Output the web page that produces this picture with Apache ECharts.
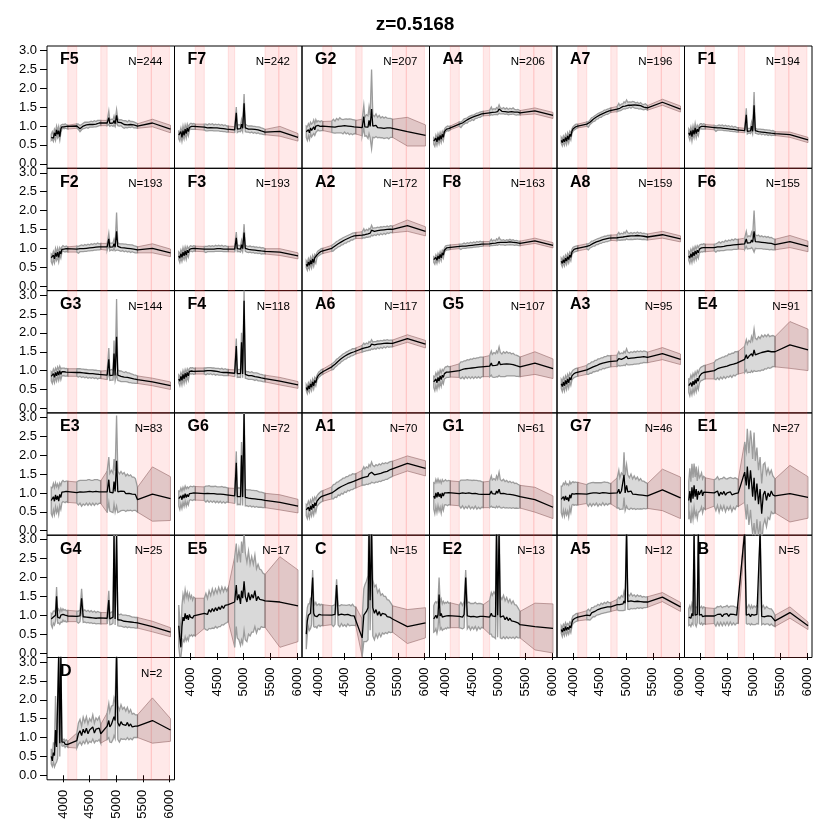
<!DOCTYPE html>
<html><head><meta charset="utf-8">
<script src="https://cdn.jsdelivr.net/npm/echarts@6/dist/echarts.min.js"></script>
<style>html,body{margin:0;padding:0;background:#fff}#c{width:830px;height:830px}</style>
</head><body><div id="c"></div>
<script>
// wavelength grid (Angstrom): unmasked blue end | unmasked mid | unmasked [OIII] region | masked red end
const WAVE = [3780,3800,3820,3840,3860,3880,3900,3920,3940,3960,3980,4000,4020,4040,4060,4090,
  4260,4290,4320,4350,4380,4410,4440,4470,4500,4530,4560,4590,4620,4650,4680,4710,
  4830,4861,4880,4910,4940,4959,4980,5007,5030,5060,5090,5120,5150,5180,5210,5240,5270,5300,5330,5360,5400,
  5680,6020];
const PANEL_NAMES = ['F5','F7','G2','A4','A7','F1','F2','F3','A2','F8','A8','F6','G3','F4','A6','G5','A3','E4',
  'E3','G6','A1','G1','G7','E1','G4','E5','C','E2','A5','B','D'];
const PANEL_COUNTS = [244,242,207,206,196,194,193,193,172,163,159,155,144,118,117,107,95,91,83,72,70,61,46,27,25,17,15,13,12,5,2];
const X_TICKS = [4000,4500,5000,5500,6000];
const Y_TICKS = [0,0.5,1,1.5,2,2.5,3];
const MASK_BANDS = [[4090,4260],[4710,4830],[5400,5660],[5660,6000]];
const TITLE = 'z=0.5168';

const mean_F5 = [0.70,0.75,0.68,0.82,0.74,0.90,0.78,0.88,0.72,0.92,0.98,1.00,0.98,1.00,0.99,0.97, 1.00,0.98,0.93,0.97,1.00,1.02,1.03,1.02,1.04,1.05,1.04,1.06,1.05,1.07,1.08,1.08, 1.08,1.22,1.07,1.10,1.08,1.15,1.06,1.28,1.10,1.08,1.09,1.06,1.04,1.05,1.03,1.06,1.04,1.05,1.03,1.02,1.00, 1.08,0.92];
const spread_F5 = [0.08,0.10,0.09,0.10,0.12,0.10,0.09,0.11,0.10,0.10,0.06,0.05,0.05,0.06,0.05,0.05, 0.06,0.07,0.08,0.07,0.07,0.08,0.07,0.08,0.07,0.08,0.07,0.08,0.07,0.08,0.07,0.07, 0.07,0.18,0.08,0.08,0.09,0.12,0.08,0.15,0.09,0.08,0.08,0.09,0.10,0.09,0.08,0.09,0.08,0.07,0.08,0.07,0.06, 0.10,0.10];
const mean_F7 = [0.76,0.72,0.85,0.70,0.88,0.75,0.92,0.80,0.95,0.85,0.96,1.00,0.99,0.98,0.99,0.98, 0.97,0.96,0.95,0.97,0.96,0.97,0.95,0.96,0.95,0.96,0.94,0.95,0.93,0.94,0.92,0.92, 0.90,1.35,0.92,0.95,0.93,1.05,0.94,1.60,0.95,0.93,0.92,0.91,0.92,0.90,0.91,0.89,0.90,0.88,0.87,0.86,0.84, 0.86,0.70];
const spread_F7 = [0.10,0.12,0.10,0.11,0.12,0.10,0.11,0.12,0.10,0.11,0.08,0.07,0.08,0.07,0.08,0.07, 0.08,0.09,0.08,0.09,0.08,0.09,0.08,0.09,0.08,0.09,0.08,0.09,0.08,0.09,0.08,0.08, 0.08,0.15,0.09,0.09,0.08,0.12,0.09,0.25,0.10,0.09,0.08,0.09,0.08,0.09,0.08,0.09,0.08,0.09,0.08,0.08,0.07, 0.13,0.10];
const mean_G2 = [0.85,0.80,0.90,0.82,0.95,0.88,0.92,0.98,0.90,1.00,0.98,1.02,1.00,0.99,1.01,1.00, 0.98,1.00,0.97,1.01,0.99,1.02,1.00,0.98,1.01,0.99,1.00,0.98,0.99,0.97,0.98,0.97, 0.96,1.25,0.98,1.02,0.97,1.15,0.99,1.45,1.00,0.97,1.02,0.96,0.99,0.95,0.97,0.94,0.96,0.95,0.93,0.95,0.94, 0.85,0.75];
const spread_G2 = [0.15,0.18,0.16,0.18,0.15,0.17,0.16,0.18,0.15,0.17,0.12,0.12,0.13,0.12,0.13,0.12, 0.15,0.18,0.16,0.19,0.17,0.20,0.18,0.19,0.17,0.20,0.18,0.21,0.19,0.20,0.18,0.18, 0.22,0.30,0.25,0.28,0.30,0.35,0.30,1.05,0.30,0.28,0.30,0.27,0.29,0.26,0.28,0.27,0.28,0.26,0.27,0.25,0.24, 0.38,0.28];
const mean_A4 = [0.60,0.55,0.68,0.58,0.72,0.62,0.75,0.65,0.78,0.70,0.85,0.90,0.92,0.94,0.93,0.95, 1.05,1.03,1.08,1.12,1.14,1.15,1.19,1.20,1.23,1.22,1.26,1.27,1.29,1.30,1.32,1.33, 1.35,1.40,1.36,1.38,1.37,1.40,1.38,1.45,1.40,1.39,1.41,1.38,1.40,1.37,1.39,1.38,1.40,1.37,1.36,1.37,1.35, 1.40,1.28];
const spread_A4 = [0.08,0.09,0.08,0.09,0.08,0.09,0.08,0.09,0.08,0.09,0.06,0.06,0.06,0.06,0.06,0.05, 0.06,0.07,0.06,0.07,0.06,0.07,0.06,0.07,0.06,0.07,0.06,0.07,0.06,0.07,0.06,0.06, 0.07,0.10,0.07,0.08,0.07,0.09,0.08,0.11,0.08,0.07,0.08,0.07,0.08,0.07,0.08,0.07,0.08,0.07,0.07,0.07,0.06, 0.08,0.08];
const mean_A7 = [0.62,0.56,0.66,0.58,0.70,0.60,0.74,0.64,0.78,0.72,0.86,0.92,0.95,0.97,0.99,1.00, 1.05,1.04,1.10,1.15,1.18,1.20,1.24,1.26,1.29,1.30,1.33,1.35,1.37,1.38,1.40,1.42, 1.45,1.50,1.47,1.50,1.52,1.55,1.53,1.58,1.55,1.57,1.55,1.58,1.56,1.54,1.55,1.52,1.54,1.51,1.50,1.52,1.48, 1.63,1.45];
const spread_A7 = [0.08,0.09,0.08,0.09,0.08,0.09,0.08,0.09,0.08,0.09,0.06,0.06,0.06,0.06,0.06,0.05, 0.06,0.07,0.06,0.07,0.06,0.07,0.06,0.07,0.06,0.07,0.06,0.07,0.06,0.07,0.06,0.06, 0.07,0.10,0.07,0.08,0.07,0.09,0.08,0.11,0.08,0.07,0.08,0.07,0.08,0.07,0.08,0.07,0.08,0.07,0.07,0.07,0.06, 0.08,0.08];
const mean_F1 = [0.82,0.75,0.88,0.72,0.90,0.78,0.95,0.80,0.92,0.85,0.96,1.00,0.99,0.98,0.99,0.98, 0.96,0.93,0.95,0.96,0.95,0.96,0.94,0.95,0.93,0.94,0.92,0.93,0.91,0.92,0.90,0.90, 0.88,1.30,0.86,0.88,0.87,1.00,0.86,1.55,0.88,0.86,0.85,0.86,0.84,0.85,0.83,0.84,0.82,0.83,0.81,0.82,0.80, 0.77,0.63];
const spread_F1 = [0.10,0.12,0.10,0.12,0.11,0.10,0.12,0.11,0.10,0.11,0.07,0.06,0.07,0.06,0.07,0.06, 0.06,0.07,0.06,0.07,0.06,0.07,0.06,0.07,0.06,0.07,0.06,0.07,0.06,0.07,0.06,0.06, 0.06,0.17,0.07,0.06,0.07,0.10,0.07,0.35,0.07,0.06,0.07,0.06,0.07,0.06,0.07,0.06,0.07,0.06,0.06,0.06,0.05, 0.07,0.07];
const mean_F2 = [0.75,0.70,0.82,0.72,0.88,0.78,0.90,0.76,0.92,0.85,0.97,1.00,0.98,0.97,0.99,0.97, 0.98,0.96,0.99,1.00,0.99,1.01,1.00,1.02,1.01,1.03,1.02,1.04,1.03,1.05,1.04,1.05, 1.04,1.25,1.03,1.05,1.04,1.12,1.03,1.45,1.05,1.03,1.02,1.03,1.01,1.02,1.00,1.01,0.99,1.00,0.98,0.97,0.96, 1.00,0.88];
const spread_F2 = [0.10,0.12,0.10,0.11,0.12,0.10,0.11,0.12,0.10,0.11,0.07,0.07,0.07,0.07,0.07,0.07, 0.08,0.09,0.08,0.09,0.08,0.09,0.08,0.09,0.08,0.09,0.08,0.09,0.08,0.09,0.08,0.08, 0.09,0.15,0.10,0.09,0.10,0.12,0.10,0.50,0.10,0.09,0.10,0.09,0.10,0.09,0.10,0.09,0.10,0.09,0.09,0.09,0.08, 0.12,0.10];
const mean_F3 = [0.80,0.74,0.86,0.76,0.90,0.80,0.93,0.82,0.95,0.88,0.97,1.00,0.99,0.98,1.00,0.99, 0.98,0.97,0.98,0.99,0.98,0.99,0.98,1.00,0.99,1.00,0.99,1.00,0.98,0.99,0.98,0.98, 0.98,1.28,0.99,1.00,0.98,1.10,0.99,1.42,1.00,0.98,0.97,0.98,0.96,0.97,0.95,0.96,0.94,0.95,0.93,0.94,0.92, 0.90,0.80];
const spread_F3 = [0.10,0.12,0.10,0.11,0.12,0.10,0.11,0.12,0.10,0.11,0.07,0.07,0.07,0.07,0.07,0.07, 0.07,0.08,0.07,0.08,0.07,0.08,0.07,0.08,0.07,0.08,0.07,0.08,0.07,0.08,0.07,0.07, 0.08,0.15,0.08,0.08,0.08,0.11,0.08,0.22,0.08,0.08,0.08,0.08,0.08,0.08,0.08,0.08,0.08,0.08,0.08,0.08,0.07, 0.09,0.08];
const mean_A2 = [0.58,0.52,0.64,0.55,0.68,0.58,0.72,0.62,0.75,0.70,0.82,0.86,0.88,0.90,0.92,0.93, 1.00,1.02,1.06,1.09,1.12,1.14,1.17,1.19,1.22,1.23,1.26,1.27,1.30,1.31,1.33,1.34, 1.35,1.40,1.36,1.40,1.38,1.42,1.40,1.48,1.43,1.45,1.44,1.47,1.45,1.48,1.46,1.49,1.47,1.50,1.48,1.51,1.50, 1.60,1.45];
const spread_A2 = [0.09,0.10,0.09,0.10,0.09,0.10,0.09,0.10,0.09,0.10,0.07,0.07,0.07,0.07,0.07,0.07, 0.08,0.09,0.08,0.09,0.08,0.09,0.08,0.09,0.08,0.09,0.08,0.09,0.08,0.09,0.08,0.08, 0.09,0.12,0.09,0.10,0.09,0.11,0.10,0.13,0.10,0.09,0.10,0.09,0.10,0.09,0.10,0.09,0.10,0.09,0.09,0.09,0.09, 0.15,0.12];
const mean_F8 = [0.70,0.66,0.76,0.68,0.80,0.72,0.84,0.75,0.88,0.82,0.95,1.00,1.01,1.02,1.02,1.03, 1.05,1.04,1.06,1.07,1.06,1.08,1.07,1.09,1.08,1.10,1.09,1.11,1.10,1.12,1.11,1.12, 1.12,1.16,1.13,1.15,1.14,1.17,1.15,1.20,1.16,1.15,1.16,1.14,1.16,1.15,1.17,1.15,1.16,1.14,1.15,1.14,1.13, 1.20,1.08];
const spread_F8 = [0.07,0.08,0.07,0.08,0.07,0.08,0.07,0.08,0.07,0.08,0.06,0.06,0.06,0.06,0.06,0.06, 0.06,0.07,0.06,0.07,0.06,0.07,0.06,0.07,0.06,0.07,0.06,0.07,0.06,0.07,0.06,0.06, 0.06,0.08,0.06,0.07,0.06,0.08,0.07,0.09,0.07,0.06,0.07,0.06,0.07,0.06,0.07,0.06,0.07,0.06,0.06,0.06,0.06, 0.07,0.07];
const mean_A8 = [0.66,0.60,0.70,0.62,0.74,0.66,0.78,0.70,0.82,0.76,0.90,0.95,0.97,0.98,0.99,1.00, 1.05,1.04,1.08,1.11,1.13,1.14,1.17,1.18,1.20,1.21,1.23,1.24,1.25,1.26,1.27,1.28, 1.28,1.32,1.29,1.31,1.30,1.33,1.31,1.36,1.32,1.31,1.33,1.31,1.33,1.32,1.34,1.32,1.33,1.31,1.32,1.31,1.30, 1.36,1.25];
const spread_A8 = [0.08,0.09,0.08,0.09,0.08,0.09,0.08,0.09,0.08,0.09,0.07,0.07,0.07,0.07,0.07,0.07, 0.07,0.08,0.07,0.08,0.07,0.08,0.07,0.08,0.07,0.08,0.07,0.08,0.07,0.08,0.07,0.07, 0.08,0.10,0.08,0.09,0.08,0.10,0.09,0.11,0.09,0.08,0.09,0.08,0.09,0.08,0.09,0.08,0.09,0.08,0.08,0.08,0.08, 0.09,0.08];
const mean_F6 = [0.80,0.74,0.86,0.76,0.90,0.80,0.93,0.84,0.95,0.88,0.98,1.00,1.01,1.00,1.02,1.01, 1.02,1.01,1.04,1.05,1.04,1.06,1.05,1.08,1.07,1.09,1.08,1.10,1.09,1.11,1.10,1.11, 1.12,1.25,1.14,1.16,1.15,1.22,1.16,1.45,1.18,1.16,1.17,1.15,1.16,1.14,1.15,1.13,1.14,1.12,1.13,1.11,1.10, 1.18,1.05];
const spread_F6 = [0.12,0.14,0.12,0.14,0.12,0.14,0.12,0.14,0.12,0.14,0.10,0.10,0.10,0.10,0.10,0.10, 0.09,0.11,0.10,0.12,0.10,0.12,0.11,0.13,0.11,0.13,0.12,0.14,0.12,0.14,0.13,0.13, 0.15,0.20,0.16,0.17,0.16,0.20,0.17,0.55,0.18,0.17,0.18,0.16,0.17,0.16,0.17,0.16,0.17,0.16,0.16,0.15,0.14, 0.16,0.14];
const mean_G3 = [0.85,0.80,0.92,0.82,0.95,0.86,0.98,0.88,1.00,0.90,0.97,0.96,0.97,0.95,0.96,0.95, 0.95,0.94,0.95,0.93,0.94,0.92,0.93,0.91,0.92,0.91,0.92,0.90,0.91,0.89,0.90,0.89, 0.88,1.30,0.87,0.89,0.88,1.45,0.87,1.90,0.88,0.86,0.85,0.84,0.83,0.84,0.82,0.81,0.80,0.79,0.78,0.77,0.76, 0.70,0.60];
const spread_G3 = [0.12,0.14,0.12,0.14,0.12,0.14,0.12,0.14,0.12,0.14,0.10,0.10,0.10,0.10,0.10,0.10, 0.10,0.11,0.10,0.11,0.10,0.11,0.10,0.11,0.10,0.11,0.10,0.11,0.10,0.11,0.10,0.10, 0.12,0.30,0.13,0.14,0.13,0.35,0.14,1.00,0.14,0.13,0.14,0.13,0.12,0.13,0.12,0.13,0.12,0.12,0.11,0.11,0.10, 0.10,0.10];
const mean_F4 = [0.78,0.72,0.85,0.74,0.90,0.78,0.93,0.82,0.95,0.86,0.98,1.00,0.99,1.00,0.98,0.99, 0.99,0.98,1.00,0.99,1.00,0.98,0.99,0.97,0.98,0.97,0.96,0.97,0.95,0.96,0.95,0.95, 0.93,1.65,0.92,0.93,0.92,1.75,0.91,2.85,0.90,0.88,0.87,0.86,0.87,0.85,0.84,0.85,0.83,0.82,0.81,0.80,0.79, 0.72,0.62];
const spread_F4 = [0.10,0.12,0.10,0.12,0.10,0.12,0.10,0.12,0.10,0.12,0.08,0.08,0.08,0.08,0.08,0.08, 0.08,0.09,0.08,0.09,0.08,0.09,0.08,0.09,0.08,0.09,0.08,0.09,0.08,0.09,0.08,0.08, 0.09,0.20,0.10,0.10,0.10,0.25,0.10,0.30,0.10,0.09,0.10,0.09,0.10,0.09,0.10,0.09,0.10,0.09,0.09,0.09,0.09, 0.10,0.09];
const mean_A6 = [0.55,0.48,0.60,0.52,0.65,0.56,0.70,0.60,0.74,0.68,0.80,0.86,0.90,0.92,0.95,0.97, 1.10,1.12,1.17,1.21,1.25,1.28,1.32,1.35,1.38,1.40,1.43,1.45,1.47,1.49,1.50,1.52, 1.58,1.62,1.60,1.63,1.62,1.66,1.64,1.70,1.66,1.68,1.67,1.70,1.68,1.71,1.69,1.72,1.70,1.73,1.71,1.72,1.72, 1.85,1.70];
const spread_A6 = [0.08,0.09,0.08,0.09,0.08,0.09,0.08,0.09,0.08,0.09,0.07,0.07,0.07,0.07,0.07,0.07, 0.08,0.09,0.08,0.09,0.08,0.09,0.08,0.09,0.08,0.09,0.08,0.09,0.08,0.09,0.08,0.08, 0.09,0.11,0.09,0.10,0.09,0.11,0.10,0.12,0.10,0.09,0.10,0.09,0.10,0.09,0.10,0.09,0.10,0.09,0.09,0.09,0.09, 0.10,0.10];
const mean_G5 = [0.70,0.65,0.78,0.68,0.82,0.72,0.86,0.76,0.88,0.82,0.92,0.95,0.96,0.97,0.96,0.97, 1.00,1.01,1.03,1.02,1.05,1.04,1.06,1.05,1.07,1.06,1.08,1.07,1.09,1.08,1.10,1.10, 1.12,1.20,1.13,1.15,1.14,1.18,1.15,1.25,1.16,1.14,1.17,1.15,1.18,1.16,1.17,1.15,1.16,1.14,1.13,1.12,1.10, 1.20,1.05];
const spread_G5 = [0.15,0.18,0.16,0.18,0.15,0.17,0.16,0.18,0.15,0.17,0.14,0.15,0.14,0.15,0.14,0.14, 0.18,0.22,0.20,0.24,0.21,0.25,0.22,0.26,0.23,0.27,0.24,0.27,0.25,0.28,0.26,0.26, 0.28,0.32,0.30,0.33,0.31,0.34,0.32,0.38,0.32,0.30,0.33,0.31,0.32,0.30,0.31,0.29,0.30,0.28,0.28,0.27,0.26, 0.30,0.26];
const mean_A3 = [0.65,0.58,0.70,0.60,0.74,0.64,0.78,0.68,0.82,0.75,0.86,0.90,0.92,0.94,0.95,0.96, 1.02,1.04,1.06,1.08,1.10,1.12,1.13,1.15,1.17,1.18,1.20,1.21,1.22,1.24,1.24,1.25, 1.26,1.32,1.28,1.30,1.29,1.33,1.30,1.38,1.32,1.31,1.33,1.32,1.34,1.33,1.35,1.34,1.36,1.35,1.37,1.36,1.35, 1.45,1.30];
const spread_A3 = [0.12,0.14,0.12,0.14,0.12,0.14,0.12,0.14,0.12,0.14,0.11,0.11,0.11,0.11,0.11,0.11, 0.12,0.14,0.13,0.15,0.13,0.15,0.14,0.16,0.14,0.16,0.14,0.16,0.15,0.16,0.15,0.15, 0.15,0.18,0.16,0.17,0.16,0.18,0.17,0.20,0.17,0.16,0.17,0.16,0.17,0.16,0.17,0.16,0.16,0.15,0.15,0.15,0.14, 0.16,0.14];
const mean_E4 = [0.60,0.55,0.68,0.58,0.72,0.62,0.76,0.66,0.80,0.72,0.85,0.90,0.92,0.93,0.95,0.96, 1.00,1.02,1.05,1.04,1.08,1.07,1.10,1.09,1.12,1.13,1.15,1.14,1.17,1.18,1.20,1.21, 1.30,1.42,1.32,1.38,1.35,1.45,1.38,1.55,1.42,1.40,1.45,1.42,1.48,1.45,1.50,1.47,1.52,1.48,1.50,1.52,1.50, 1.68,1.55];
const spread_E4 = [0.18,0.22,0.20,0.22,0.20,0.22,0.20,0.22,0.20,0.22,0.18,0.18,0.18,0.18,0.18,0.18, 0.22,0.26,0.24,0.28,0.25,0.29,0.26,0.30,0.27,0.31,0.28,0.32,0.29,0.32,0.30,0.30, 0.35,0.40,0.38,0.42,0.40,0.45,0.42,0.55,0.44,0.42,0.45,0.43,0.46,0.44,0.45,0.43,0.44,0.42,0.42,0.41,0.40, 0.62,0.55];
const mean_E3 = [0.80,0.76,0.90,0.78,0.95,0.82,0.92,0.78,0.96,0.88,1.02,1.05,1.03,1.02,1.04,1.03, 1.01,1.00,1.03,0.99,1.02,1.00,1.03,1.01,1.04,1.00,1.03,1.01,1.04,1.02,1.03,1.02, 1.03,1.35,1.02,1.05,1.00,1.30,1.04,1.85,1.03,1.00,1.05,1.02,1.04,0.98,1.02,0.99,1.01,0.97,0.98,0.96,0.82, 0.97,0.85];
const spread_E3 = [0.35,0.38,0.35,0.36,0.32,0.34,0.32,0.35,0.30,0.32,0.28,0.28,0.27,0.28,0.27,0.28, 0.28,0.32,0.30,0.34,0.31,0.33,0.30,0.34,0.31,0.33,0.30,0.34,0.31,0.33,0.30,0.30, 0.55,0.60,0.50,0.55,0.52,0.60,0.55,1.20,0.55,0.50,0.52,0.48,0.50,0.47,0.48,0.46,0.47,0.45,0.44,0.42,0.33, 0.72,0.58];
const mean_G6 = [0.85,0.80,0.92,0.82,0.95,0.86,0.98,0.88,0.96,0.90,0.98,1.00,0.99,0.98,1.00,0.99, 0.98,0.97,0.99,0.97,0.98,0.96,0.98,0.96,0.97,0.95,0.97,0.95,0.96,0.94,0.95,0.94, 0.92,1.80,0.90,0.92,0.90,2.00,0.89,3.10,0.88,0.87,0.86,0.87,0.85,0.86,0.84,0.85,0.83,0.82,0.82,0.81,0.80, 0.75,0.65];
const spread_G6 = [0.20,0.24,0.21,0.23,0.20,0.22,0.20,0.23,0.20,0.22,0.18,0.18,0.18,0.18,0.18,0.18, 0.18,0.21,0.19,0.22,0.19,0.21,0.19,0.22,0.19,0.21,0.19,0.22,0.19,0.21,0.19,0.19, 0.20,0.30,0.21,0.22,0.21,0.35,0.22,0.40,0.22,0.21,0.22,0.21,0.22,0.21,0.22,0.21,0.21,0.20,0.20,0.20,0.19, 0.20,0.18];
const mean_A1 = [0.55,0.50,0.62,0.52,0.66,0.56,0.70,0.60,0.74,0.66,0.78,0.82,0.85,0.88,0.90,0.92, 1.00,1.03,1.06,1.08,1.12,1.13,1.17,1.18,1.21,1.22,1.25,1.26,1.28,1.30,1.31,1.32, 1.40,1.45,1.42,1.46,1.44,1.50,1.47,1.55,1.50,1.48,1.52,1.50,1.54,1.52,1.56,1.55,1.58,1.57,1.60,1.62,1.64, 1.78,1.65];
const spread_A1 = [0.15,0.18,0.16,0.18,0.15,0.17,0.16,0.18,0.15,0.17,0.14,0.14,0.14,0.14,0.14,0.14, 0.16,0.19,0.17,0.20,0.17,0.20,0.18,0.21,0.18,0.21,0.18,0.21,0.19,0.21,0.19,0.19, 0.20,0.24,0.21,0.23,0.22,0.25,0.23,0.27,0.23,0.22,0.23,0.22,0.23,0.22,0.23,0.22,0.22,0.21,0.21,0.21,0.20, 0.20,0.20];
const mean_G1 = [0.92,0.85,1.00,0.88,1.02,0.90,0.98,0.86,1.00,0.92,1.00,1.02,1.00,0.99,1.01,1.00, 0.98,0.97,1.00,0.96,0.99,0.97,1.00,0.96,0.98,0.96,0.99,0.95,0.97,0.95,0.96,0.95, 0.96,1.05,0.98,1.00,0.97,1.05,0.99,1.10,0.98,0.96,0.99,0.95,0.97,0.94,0.96,0.93,0.95,0.92,0.93,0.91,0.90, 0.82,0.62];
const spread_G1 = [0.35,0.40,0.36,0.40,0.35,0.38,0.36,0.40,0.35,0.38,0.32,0.33,0.32,0.33,0.32,0.32, 0.32,0.37,0.34,0.38,0.35,0.38,0.34,0.38,0.35,0.38,0.34,0.38,0.35,0.37,0.34,0.34, 0.35,0.40,0.36,0.38,0.37,0.40,0.38,0.45,0.37,0.36,0.37,0.35,0.36,0.34,0.35,0.34,0.34,0.33,0.33,0.32,0.30, 0.33,0.30];
const mean_G7 = [0.83,0.78,0.90,0.80,0.92,0.82,0.88,0.78,0.95,0.86,0.98,1.00,0.97,0.99,0.98,0.98, 0.97,0.95,0.99,0.96,1.00,0.97,1.00,0.96,0.99,0.97,1.01,0.98,1.00,0.98,0.99,0.98, 1.00,1.10,0.98,1.05,1.02,1.48,1.00,1.20,1.03,0.98,1.05,0.97,1.02,0.96,1.00,0.95,0.98,0.94,0.95,0.93,0.92, 1.08,0.87];
const spread_G7 = [0.35,0.40,0.36,0.42,0.38,0.40,0.36,0.42,0.35,0.38,0.30,0.30,0.30,0.30,0.30,0.30, 0.25,0.30,0.27,0.31,0.28,0.30,0.27,0.31,0.28,0.30,0.27,0.31,0.28,0.30,0.27,0.27, 0.40,0.50,0.42,0.48,0.45,0.60,0.47,0.55,0.45,0.42,0.45,0.40,0.43,0.40,0.42,0.38,0.40,0.37,0.36,0.35,0.33, 0.55,0.55];
const mean_E1 = [0.80,1.05,0.75,1.15,0.85,1.20,0.90,1.10,0.82,1.05,0.95,1.00,1.08,0.92,1.02,0.98, 1.00,0.95,1.05,0.92,1.02,0.96,1.04,0.94,1.00,0.97,1.03,0.95,1.00,0.98,1.02,1.00, 1.55,1.20,1.70,1.10,1.60,1.30,0.90,1.40,0.80,1.25,0.70,1.10,0.45,0.95,1.05,0.80,1.00,0.90,1.05,0.95,0.92, 0.98,0.88];
const spread_E1 = [0.50,0.60,0.55,0.62,0.55,0.58,0.52,0.60,0.50,0.55,0.45,0.45,0.45,0.45,0.42,0.42, 0.35,0.42,0.38,0.43,0.36,0.42,0.38,0.44,0.37,0.42,0.38,0.44,0.38,0.42,0.36,0.36, 0.80,0.90,1.00,0.95,1.05,1.10,1.00,1.20,1.05,0.95,0.90,0.85,0.80,0.80,0.75,0.70,0.65,0.60,0.55,0.50,0.45, 0.75,0.55];
const mean_G4 = [0.90,0.85,0.95,0.92,1.00,1.50,0.95,0.98,0.92,1.00,0.96,1.02,0.98,1.00,0.97,0.98, 0.97,0.95,0.98,1.45,0.96,0.98,0.95,0.97,0.94,0.96,0.93,0.95,0.92,0.94,0.93,0.92, 0.92,1.40,0.90,0.92,0.95,3.10,0.90,3.10,0.88,0.86,0.87,0.85,0.84,0.85,0.83,0.84,0.82,0.81,0.81,0.80,0.80, 0.70,0.55];
const spread_G4 = [0.15,0.18,0.16,0.18,0.16,0.25,0.16,0.18,0.16,0.18,0.15,0.15,0.15,0.15,0.15,0.15, 0.14,0.16,0.15,0.25,0.15,0.16,0.15,0.16,0.15,0.16,0.15,0.16,0.15,0.16,0.15,0.15, 0.15,0.25,0.15,0.16,0.16,0.30,0.16,0.30,0.16,0.15,0.16,0.15,0.16,0.15,0.16,0.15,0.15,0.14,0.14,0.14,0.14, 0.14,0.12];
const mean_E5 = [0.72,0.40,0.15,0.70,0.95,0.85,1.05,0.90,1.00,0.88,1.02,0.95,1.00,0.92,0.98,0.95, 1.05,1.10,1.02,1.15,1.08,1.18,1.10,1.20,1.12,1.22,1.15,1.25,1.18,1.26,1.22,1.28, 1.35,1.80,1.40,1.55,1.30,1.65,1.45,1.90,1.50,1.35,1.60,1.40,1.55,1.45,1.65,1.38,1.50,1.42,1.45,1.40,1.38, 1.35,1.25];
const spread_E5 = [0.55,0.50,0.25,0.55,0.60,0.55,0.62,0.58,0.60,0.55,0.55,0.50,0.52,0.48,0.50,0.50, 0.40,0.48,0.42,0.50,0.44,0.52,0.45,0.50,0.46,0.52,0.45,0.50,0.44,0.48,0.42,0.45, 1.20,1.10,1.00,1.20,1.10,1.30,1.20,1.30,1.15,1.05,1.10,0.95,1.00,0.90,0.95,0.85,0.85,0.80,0.75,0.72,0.70, 1.20,0.95];
const mean_C = [0.50,0.85,1.00,0.95,1.05,1.10,2.00,1.05,0.98,1.02,0.96,1.00,1.02,0.98,1.01,1.00, 1.00,0.98,1.02,1.80,1.00,0.97,1.03,0.99,1.01,0.98,1.02,1.00,0.99,1.01,0.98,0.97, 0.40,1.00,1.05,1.10,1.20,3.20,1.40,3.20,1.20,1.05,1.15,1.00,1.10,0.98,1.05,1.00,1.02,0.96,0.98,0.94,0.90, 0.70,0.80];
const spread_C = [0.40,0.35,0.30,0.35,0.40,0.35,0.20,0.35,0.30,0.32,0.30,0.28,0.28,0.28,0.28,0.28, 0.25,0.28,0.26,0.15,0.26,0.28,0.25,0.28,0.26,0.28,0.25,0.28,0.26,0.28,0.25,0.25, 0.50,0.70,0.75,0.80,0.85,0.60,0.80,0.60,0.75,0.70,0.65,0.60,0.58,0.55,0.52,0.50,0.48,0.45,0.42,0.40,0.35, 0.45,0.40];
const mean_E2 = [0.90,0.95,1.00,0.92,1.02,1.55,0.98,1.05,0.95,1.00,0.97,1.00,0.98,1.02,0.99,1.00, 0.97,1.00,0.95,1.02,2.00,0.98,1.03,0.96,1.00,0.97,1.02,0.95,1.00,0.97,0.99,0.97, 0.95,1.05,0.98,1.02,0.96,3.20,1.00,3.20,0.95,0.90,0.98,0.88,0.95,0.86,0.92,0.85,0.90,0.83,0.85,0.80,0.75, 0.70,0.65];
const spread_E2 = [0.35,0.38,0.36,0.40,0.36,0.45,0.36,0.38,0.35,0.37,0.34,0.34,0.34,0.34,0.33,0.33, 0.30,0.34,0.31,0.35,0.20,0.34,0.32,0.35,0.31,0.34,0.32,0.35,0.31,0.34,0.31,0.31, 0.45,0.55,0.55,0.60,0.58,0.50,0.58,0.50,0.55,0.52,0.55,0.50,0.52,0.48,0.50,0.46,0.48,0.45,0.42,0.40,0.35, 0.62,0.65];
const mean_A5 = [0.62,0.55,0.66,0.58,0.70,0.60,0.68,0.62,0.72,0.66,0.80,0.88,0.90,0.92,0.94,0.95, 1.00,1.02,0.99,1.06,1.08,1.10,1.12,1.15,1.14,1.18,1.17,1.20,1.19,1.22,1.21,1.22, 1.28,1.30,1.28,1.32,1.30,1.38,1.32,3.20,1.36,1.33,1.38,1.34,1.36,1.33,1.37,1.34,1.36,1.33,1.35,1.34,1.35, 1.48,1.22];
const spread_A5 = [0.10,0.12,0.10,0.12,0.10,0.12,0.10,0.12,0.10,0.12,0.10,0.10,0.10,0.10,0.10,0.10, 0.12,0.14,0.12,0.14,0.12,0.14,0.12,0.14,0.12,0.14,0.12,0.14,0.12,0.14,0.12,0.12, 0.14,0.18,0.16,0.20,0.18,0.25,0.18,0.30,0.20,0.18,0.20,0.17,0.18,0.16,0.17,0.16,0.16,0.15,0.15,0.14,0.14, 0.12,0.12];
const mean_B = [0.95,1.00,0.92,1.05,0.98,3.20,1.00,0.95,1.02,3.20,1.00,0.98,1.02,0.96,1.00,0.98, 0.98,0.95,1.02,0.97,1.03,0.96,1.02,0.98,1.04,0.97,1.03,0.99,1.02,0.98,1.00,0.99, 3.20,1.00,0.98,1.03,0.96,1.02,0.97,1.00,0.98,1.02,0.99,3.20,0.97,1.02,0.96,1.00,0.98,0.95,0.97,0.92,0.85, 1.07,0.72];
const spread_B = [0.22,0.25,0.22,0.26,0.23,0.30,0.23,0.25,0.22,0.30,0.22,0.22,0.22,0.22,0.22,0.22, 0.20,0.24,0.21,0.25,0.22,0.24,0.21,0.25,0.22,0.24,0.21,0.25,0.22,0.24,0.21,0.21, 0.25,0.22,0.22,0.25,0.22,0.24,0.22,0.25,0.23,0.24,0.22,0.30,0.22,0.24,0.21,0.23,0.21,0.22,0.20,0.19,0.15, 0.15,0.10];
const mean_D = [0.50,0.38,0.60,0.52,1.20,0.75,0.80,3.20,0.85,3.20,0.88,0.85,0.88,0.82,0.86,0.82, 0.92,1.10,1.18,1.05,1.22,1.12,1.25,1.10,1.20,1.15,1.28,1.12,1.22,1.18,1.25,1.10, 1.30,1.45,1.28,1.35,1.40,1.55,1.45,3.20,1.40,1.30,1.42,1.35,1.38,1.32,1.40,1.30,1.36,1.28,1.32,1.30,1.30, 1.45,1.20];
const spread_D = [0.20,0.15,0.25,0.30,0.90,0.40,0.35,0.30,0.35,0.30,0.10,0.08,0.08,0.08,0.08,0.08, 0.20,0.28,0.30,0.25,0.32,0.28,0.30,0.26,0.30,0.28,0.32,0.26,0.30,0.28,0.30,0.25, 0.35,0.45,0.40,0.48,0.45,0.50,0.48,0.40,0.45,0.42,0.45,0.40,0.42,0.38,0.40,0.36,0.38,0.34,0.32,0.30,0.30, 0.60,0.30];

const PANEL_MEANS = [mean_F5,mean_F7,mean_G2,mean_A4,mean_A7,mean_F1,mean_F2,mean_F3,mean_A2,mean_F8,mean_A8,mean_F6,
  mean_G3,mean_F4,mean_A6,mean_G5,mean_A3,mean_E4,mean_E3,mean_G6,mean_A1,mean_G1,mean_G7,mean_E1,
  mean_G4,mean_E5,mean_C,mean_E2,mean_A5,mean_B,mean_D];
const PANEL_SPREADS = [spread_F5,spread_F7,spread_G2,spread_A4,spread_A7,spread_F1,spread_F2,spread_F3,spread_A2,spread_F8,spread_A8,spread_F6,
  spread_G3,spread_F4,spread_A6,spread_G5,spread_A3,spread_E4,spread_E3,spread_G6,spread_A1,spread_G1,spread_G7,spread_E1,
  spread_G4,spread_E5,spread_C,spread_E2,spread_A5,spread_B,spread_D];

// contiguous runs of the wavelength grid: [first index, last index, masked?]
const RUNS = [[0,15,0],[15,16,1],[16,31,0],[31,32,1],[32,52,0],[52,54,1]];

const FONT = '"Liberation Sans", Arial, Helvetica, sans-serif';
const COLS = 6, L0 = 47, T0 = 46, PW = 127.5, PH = 122.3;
const grids = [], xAxes = [], yAxes = [], series = [], graphics = [];

PANEL_NAMES.forEach((name, i) => {
  const r = Math.floor(i / COLS), c = i % COLS;
  const left = L0 + c * PW, top = T0 + r * PH;
  const M = PANEL_MEANS[i], S = PANEL_SPREADS[i];
  const bottomOfCol = (i + COLS >= PANEL_NAMES.length);
  grids.push({left: left, top: top, width: PW, height: PH, show: true, borderColor: '#000', borderWidth: 1, backgroundColor: 'transparent'});
  xAxes.push({gridIndex: i, type: 'value', min: 3700, max: 6095, position: 'bottom',
    axisLine: {show: false}, splitLine: {show: false},
    axisTick: {show: bottomOfCol, inside: false, length: 7, lineStyle: {color: '#000', width: 1}, customValues: X_TICKS},
    axisLabel: {show: bottomOfCol, rotate: 90, margin: 10, fontSize: 13, color: '#000', fontFamily: FONT, customValues: X_TICKS,
      formatter: v => String(Math.round(v))}
  });
  yAxes.push({gridIndex: i, type: 'value', min: -0.12, max: 3.12, position: 'left',
    axisLine: {show: false}, splitLine: {show: false},
    axisTick: {show: c === 0, inside: false, length: 7, lineStyle: {color: '#000', width: 1}, customValues: Y_TICKS},
    axisLabel: {show: c === 0, margin: 10, fontSize: 13, color: '#000', fontFamily: FONT, customValues: Y_TICKS,
      formatter: v => Number(v).toFixed(1)}
  });
  // envelope polygons (gray where measured, rosy where masked)
  series.push({
    type: 'custom', xAxisIndex: i, yAxisIndex: i, clip: true, silent: true, z: 2,
    data: RUNS.map(run => [WAVE[run[0]], M[run[0]]]),
    renderItem: function (params, api) {
      const run = RUNS[params.dataIndex];
      const pts = [];
      for (let k = run[0]; k <= run[1]; k++) pts.push(api.coord([WAVE[k], M[k] + S[k]]));
      for (let k = run[1]; k >= run[0]; k--) pts.push(api.coord([WAVE[k], M[k] - S[k]]));
      const masked = run[2] === 1;
      return {type: 'polygon', shape: {points: pts},
        style: {fill: masked ? 'rgba(130,90,90,0.24)' : '#d9d9d9',
                stroke: masked ? 'rgba(140,95,95,0.55)' : '#9c9c9c',
                lineWidth: masked ? 1 : 1.3}};
    }
  });
  // mean spectrum with sky-line mask bands
  series.push({
    type: 'line', xAxisIndex: i, yAxisIndex: i, clip: true, silent: true, z: 3,
    data: WAVE.map((w, k) => [w, M[k]]),
    showSymbol: false, symbol: 'none',
    lineStyle: {color: '#000', width: 1.3},
    markArea: {silent: true,
      itemStyle: {color: 'rgba(255,0,0,0.085)', borderColor: 'rgba(255,80,80,0.14)', borderWidth: 1},
      data: MASK_BANDS.map(b => [{xAxis: b[0]}, {xAxis: b[1]}])}
  });
  graphics.push({type: 'text', left: left + 13, top: top + 6, z: 10,
    style: {text: name, font: 'bold 16px ' + FONT, fill: '#000'}});
  graphics.push({type: 'text', right: 830 - (left + PW - 12), top: top + 10, z: 10,
    style: {text: 'N=' + PANEL_COUNTS[i], font: '11.5px ' + FONT, fill: '#000'}});
});

const chart = echarts.init(document.getElementById('c'), null, {renderer: 'canvas'});
chart.setOption({
  animation: false,
  backgroundColor: '#fff',
  title: {text: TITLE, left: 'center', top: 10, textStyle: {fontSize: 19, fontWeight: 'bold', color: '#000', fontFamily: FONT}},
  grid: grids, xAxis: xAxes, yAxis: yAxes, series: series, graphic: graphics
});
</script></body></html>
